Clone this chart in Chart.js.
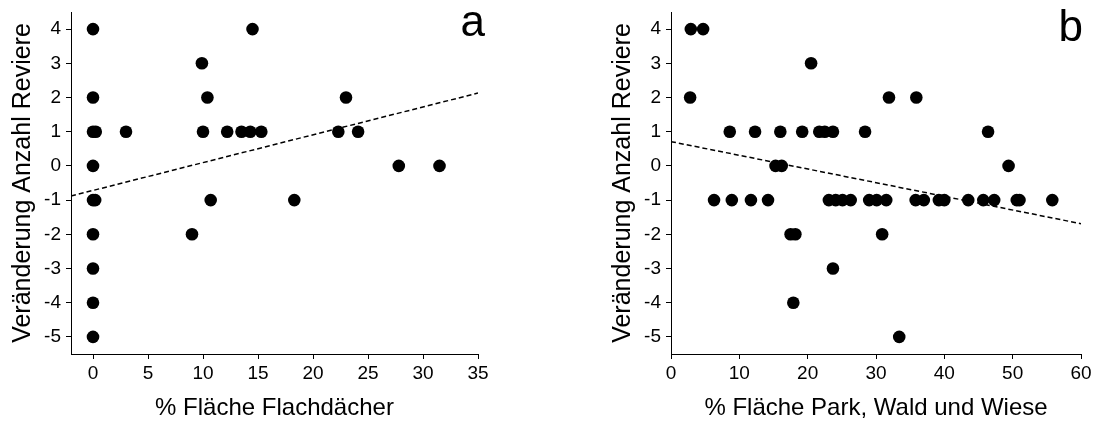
<!DOCTYPE html>
<html>
<head>
<meta charset="utf-8">
<script src="https://cdn.jsdelivr.net/npm/chart.js@4"></script>
<style>
	body { margin: 0; background: #fff; }
	#wrap { position: relative; width: 1096px; height: 427px; }
	canvas { position: absolute; top: 0; }
	#chartA { left: 0; }
	#chartB { left: 548px; }
</style>
</head>
<body>
<div id="wrap">
	<canvas id="chartA" width="548" height="427"></canvas>
	<canvas id="chartB" width="548" height="427"></canvas>
</div>
<script>
// panel a: % Fläche Flachdächer
const xA = [0, 0, 0, 0.25, 0, 0, 0.2, 0, 0, 0, 0, 3, 9.9, 10.4, 10, 12.2, 13.5, 14.3, 15.3, 14.5, 10.7, 9, 23, 22.3, 24.1, 27.8, 31.5, 18.3]
const yA = [4, 2, 1, 1, 0, -1, -1, -2, -3, -4, -5, 1, 3, 2, 1, 1, 1, 1, 1, 4, -1, -2, 2, 1, 1, 0, 0, -1]
const trendXA = [-2, 35]
const trendYA = [-0.88, 2.13]
const xTicksA = [0, 5, 10, 15, 20, 25, 30, 35]

// panel b: % Fläche Park, Wald und Wiese
const xB = [2.9, 4.7, 20.5, 2.8, 31.9, 35.9,
	8.6, 12.3, 16.0, 19.2, 21.7, 22.5, 23.7, 28.4, 46.4,
	15.3, 16.2, 49.4,
	6.3, 8.9, 11.7, 14.2, 23.1, 24.1, 25.1, 26.3, 29.0, 30.1, 31.5, 35.8, 37.0, 39.2, 40.0, 43.5, 45.7, 47.3, 50.6, 51.0, 55.8,
	17.5, 18.2, 30.9, 23.7, 17.9, 33.4]
const yB = [4, 4, 3, 2, 2, 2,
	1, 1, 1, 1, 1, 1, 1, 1, 1,
	0, 0, 0,
	-1, -1, -1, -1, -1, -1, -1, -1, -1, -1, -1, -1, -1, -1, -1, -1, -1, -1, -1, -1, -1,
	-2, -2, -2, -3, -4, -5]
const trendXB = [0, 60]
const trendYB = [0.71, -1.69]
const xTicksB = [0, 10, 20, 30, 40, 50, 60]

const yTicks = [-5, -4, -3, -2, -1, 0, 1, 2, 3, 4]
const yTitle = 'Veränderung Anzahl Reviere'

const fontFam = '"Liberation Sans", Arial, sans-serif'

const letterPlugin = {
	id: 'panelLetter',
	afterDraw(chart, args, opts) {
		const c = chart.ctx
		c.save()
		c.font = '44px ' + fontFam
		c.fillStyle = '#000'
		c.textAlign = 'right'
		c.textBaseline = 'alphabetic'
		c.fillText(opts.text, chart.chartArea.right + opts.dx, opts.y)
		c.restore()
	}
}

function toPoints(xs, ys) {
	return xs.map((x, i) => ({ x: x, y: ys[i] }))
}

function scatterChart(id, xs, ys, tx, ty, xMin, xMax, xTicks, xTitle, p) {
	const data = {
		datasets: [{
			type: 'scatter',
			data: toPoints(xs, ys),
			backgroundColor: '#000',
			borderColor: '#000',
			borderWidth: 0,
			pointRadius: 6.3,
			pointHoverRadius: 6.3
		}, {
			type: 'line',
			data: toPoints(tx, ty),
			borderColor: '#000',
			borderWidth: 1.5,
			borderDash: [5, 3],
			pointRadius: 0,
			fill: false
		}]
	};
	const config = {
		type: 'scatter',
		data: data,
		options: {
			responsive: false,
			animation: false,
			layout: { padding: { top: 12, right: p.right, left: 0, bottom: 0 } },
			plugins: {
				legend: { display: false },
				tooltip: { enabled: false },
				panelLetter: { text: p.letter, dx: p.letterDx, y: p.letterY }
			},
			scales: {
				x: {
					type: 'linear',
					min: xMin,
					max: xMax,
					afterBuildTicks: s => { s.ticks = xTicks.map(v => ({ value: v })) },
					afterFit: s => { s.height = 73; s.paddingLeft = 0; s.paddingRight = 0 },
					grid: { drawOnChartArea: false, drawTicks: true, tickLength: 5, color: '#000' },
					border: { color: '#000', width: 1 },
					ticks: { font: { size: 19, family: fontFam }, color: '#000', padding: 3, maxRotation: 0, autoSkip: false },
					title: { display: true, text: xTitle, font: { size: 24, family: fontFam }, color: '#000', padding: { top: 0, bottom: 4 } }
				},
				y: {
					type: 'linear',
					min: -5.5,
					max: 4.5,
					afterBuildTicks: s => { s.ticks = yTicks.map(v => ({ value: v })) },
					afterFit: s => { s.width = p.yWidth; s.paddingTop = 0; s.paddingBottom = 0 },
					grid: { drawOnChartArea: false, drawTicks: true, tickLength: 5, color: '#000' },
					border: { color: '#000', width: 1 },
					ticks: { font: { size: 19, family: fontFam }, color: '#000', padding: 5, autoSkip: false },
					title: { display: true, text: yTitle, font: { size: 25, family: fontFam }, color: '#000', padding: { top: p.titlePad, bottom: 0 } }
				}
			}
		},
		plugins: [letterPlugin]
	};

	let ctx = document.getElementById(id)
	new Chart(ctx, config)
}

scatterChart('chartA', xA, yA, trendXA, trendYA, -2, 35, xTicksA, '% Fläche Flachdächer',
	{ right: 70, yWidth: 71, titlePad: 8, letter: 'a', letterDx: 7, letterY: 36 })
scatterChart('chartB', xB, yB, trendXB, trendYB, 0, 60, xTicksB, '% Fläche Park, Wald und Wiese',
	{ right: 15, yWidth: 123, titlePad: 60, letter: 'b', letterDx: 2, letterY: 41 })
</script>
</body>
</html>
